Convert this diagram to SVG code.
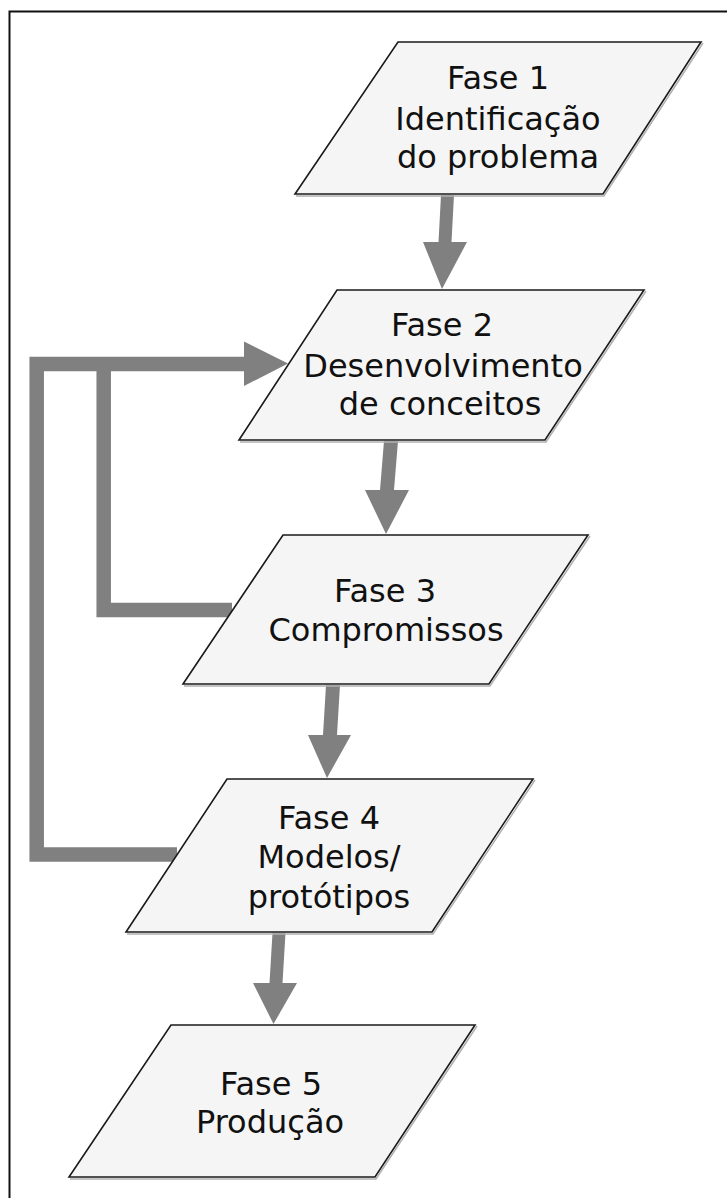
<svg xmlns="http://www.w3.org/2000/svg" width="727" height="1198" viewBox="0 0 727 1198">
<style>
.box{fill:#f5f5f5;stroke:#1a1a1a;stroke-width:1.6;stroke-linejoin:miter}
.shadow{fill:none;stroke:#b0b0b0;stroke-width:1.5}
.lbl{font-family:"DejaVu Sans",Verdana,sans-serif;font-size:32px;fill:#111;text-anchor:middle}
.arrow{fill:#808080;stroke:none}
.line{fill:none;stroke:#808080;stroke-width:14.5;stroke-linejoin:miter}
</style>
<rect x="0" y="0" width="727" height="1198" fill="#ffffff"/>
<rect x="9.5" y="11.5" width="740" height="1220" fill="none" stroke="#111" stroke-width="2"/>

<g id="connectors">
  <path class="line" d="M177 854.5 H36.7 V364 H246"/>
  <path class="line" d="M232 610 H103.7 V357"/>
  <polygon class="arrow" points="244,341.5 288,363.5 244,386"/>
  <polygon class="arrow" points="441,195 454,195 451.5,242 467,242 442,289 423,242 438.5,242"/>
  <polygon class="arrow" points="384,441 398,441 394,490 409,490 386,534 365,490 380,490"/>
  <polygon class="arrow" points="326,685 340,685 337,735 351,735 327,778 308,735 323,735"/>
  <polygon class="arrow" points="272.5,933 285.5,933 282.5,983 297,983 273.5,1024 253,983 269.5,983"/>
</g>

<g id="fase1">
  <polyline class="shadow" points="296,196 604,196 703,43"/>
  <polygon class="box" points="398,42 701,42 603,194 295,194"/>
  <text class="lbl" x="498" y="89">Fase 1</text>
  <text class="lbl" x="498" y="130">Identificação</text>
  <text class="lbl" x="498" y="168">do problema</text>
</g>

<g id="fase2">
  <polyline class="shadow" points="240,442 546,442 646,291"/>
  <polygon class="box" points="337,290 644,290 545,440 239,440"/>
  <text class="lbl" x="442" y="336">Fase 2</text>
  <text class="lbl" x="443" y="377">Desenvolvimento</text>
  <text class="lbl" x="440" y="415">de conceitos</text>
</g>

<g id="fase3">
  <polyline class="shadow" points="184,686 490,686 590,536"/>
  <polygon class="box" points="283,535 588,535 489,684 183,684"/>
  <text class="lbl" x="385" y="602">Fase 3</text>
  <text class="lbl" x="386" y="641">Compromissos</text>
</g>

<g id="fase4">
  <polyline class="shadow" points="127,934 433,934 535,780"/>
  <polygon class="box" points="227,779 533,779 432,932 126,932"/>
  <text class="lbl" x="329" y="829">Fase 4</text>
  <text class="lbl" x="329" y="868">Modelos/</text>
  <text class="lbl" x="329" y="908">protótipos</text>
</g>

<g id="fase5">
  <polyline class="shadow" points="70,1179 376,1179 477,1026"/>
  <polygon class="box" points="171,1025 475,1025 375,1177 69,1177"/>
  <text class="lbl" x="271" y="1095">Fase 5</text>
  <text class="lbl" x="270" y="1133">Produção</text>
</g>
</svg>
